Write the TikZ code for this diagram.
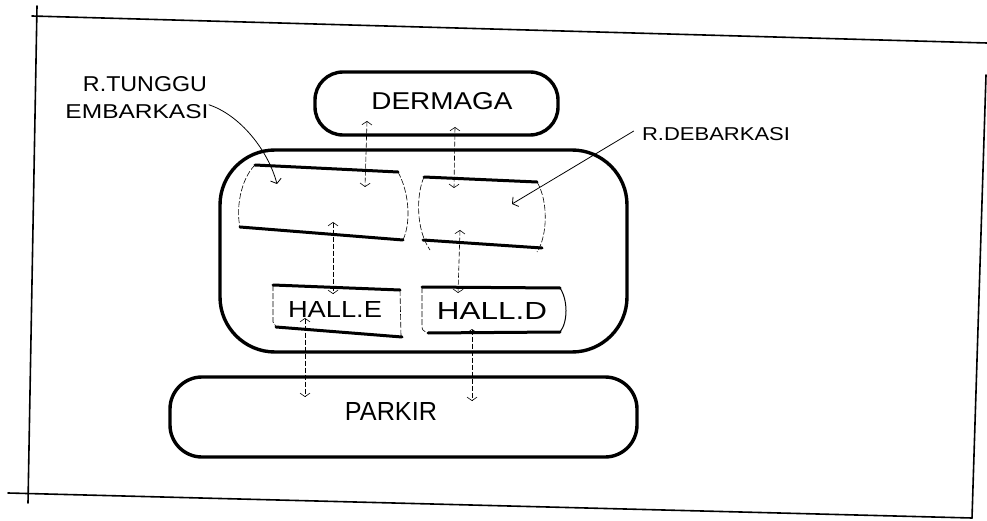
\documentclass[tikz,border=0pt]{standalone}
\usepackage{graphicx}
\usepackage{fontspec}
\setmainfont{Liberation Sans}
\usetikzlibrary{arrows.meta}
\tikzset{
  frameline/.style={line width=1.6pt, line cap=round},
  bigbox/.style={draw, line width=3.4pt, rounded corners=#1, inner sep=0pt},
  thickline/.style={line width=3pt, line cap=round},
  thinside/.style={line width=0.6pt, dash pattern=on 6pt off 2pt},
  flow/.style={line width=0.6pt, dash pattern=on 5pt off 2pt,
    {Straight Barb[length=3.5pt,width=10pt]}-{Straight Barb[length=3.5pt,width=10pt]}},
  leader/.style={line width=0.8pt, -{Straight Barb[length=4pt,width=11pt]}},
  lbl/.style={inner sep=0pt, anchor=center},
}
\newcommand{\hw}[3]{\resizebox{#1pt}{#2pt}{#3}}
\begin{document}
\begin{tikzpicture}[x=1pt,y=-1pt]
\useasboundingbox (0,0) rectangle (987,521);
% sheet frame
\draw[frameline] (32,16) -- (987,43);
\draw[frameline] (37,6) -- (28,503);
\draw[frameline] (8,493) -- (972,518);
\draw[frameline] (986,75) -- (972,518);
% main boxes
\node[bigbox=28, minimum width=243pt, minimum height=63pt] (dermaga) at (436.5,103.5) {};
\node[bigbox=55, minimum width=407pt, minimum height=202pt] (terminal) at (423.5,251) {};
\node[bigbox=32, minimum width=467pt, minimum height=80pt] (parkir) at (403.5,417) {};
% left room (R. tunggu embarkasi)
\draw[thickline] (255,165) -- (398,172);
\draw[thickline] (240,227) -- (403,240);
\draw[thinside] (255,165) .. controls (240,180) and (236,210) .. (240,227);
\draw[thinside] (398,172) .. controls (408,190) and (412,220) .. (403,240);
% right room (R. debarkasi)
\draw[thickline] (424,177) -- (537,182);
\draw[thickline] (423,240) -- (542,248);
\draw[thinside] (424,177) .. controls (416,195) and (416,230) .. (430,250);
\draw[thinside] (537,182) .. controls (548,200) and (548,235) .. (537,252);
% HALL.E
\draw[thickline] (273,285) -- (400,290);
\draw[thickline] (276,327) -- (402,337);
\draw[thinside] (273,285) -- (273,322) -- (277,328);
\draw[thinside] (400,290) -- (401,336);
% HALL.D
\draw[thickline] (422,287) -- (560,288);
\draw[thickline] (428,333) -- (560,332);
\draw[thinside] (422,287) -- (422,325) .. controls (422,330) .. (428,333);
\draw[line width=1pt] (560,288) .. controls (568,300) and (568,322) .. (560,332);
% texts
\node[lbl] (dermagatxt) at (442,101) {\hw{141}{17}{DERMAGA}};
\node[lbl] (halle) at (335,309) {\hw{94}{16}{HALL.E}};
\node[lbl] (halld) at (492,311) {\hw{110}{17}{HALL.D}};
\node[lbl] (parkirtxt) at (391,411) {\hw{92}{18}{PARKIR}};
\node[lbl] (lblA) at (145,84) {\hw{124}{15}{R.TUNGGU}};
\node[lbl] (lblB) at (137,112) {\hw{143}{14}{EMBARKASI}};
\node[lbl] (lblC) at (716,134) {\hw{148}{13}{R.DEBARKASI}};
% leader lines
\coordinate (tipA) at (277,184);
\coordinate (tipC) at (512,204);
\draw[leader] (lblB.north east) .. controls (240,115) and (268,150) .. (tipA);
\draw[leader] ([xshift=-8pt,yshift=3pt]lblC.west) -- (tipC);
% flow arrows
\coordinate (d1) at (367,121); \coordinate (e1) at (365,187);
\coordinate (d2) at (455,127); \coordinate (e2) at (454,188);
\coordinate (e3) at (333,222); \coordinate (h1) at (333,294);
\coordinate (e4) at (460,230); \coordinate (h2) at (458,293);
\coordinate (h3) at (305,318); \coordinate (p1) at (305,397);
\coordinate (h4) at (472,329); \coordinate (p2) at (472,401);
\draw[flow] (d1) -- (e1);
\draw[flow] (d2) -- (e2);
\draw[flow] (e3) -- (h1);
\draw[flow] (e4) -- (h2);
\draw[flow] (h3) -- (p1);
\draw[flow] (h4) -- (p2);
\end{tikzpicture}
\end{document}
